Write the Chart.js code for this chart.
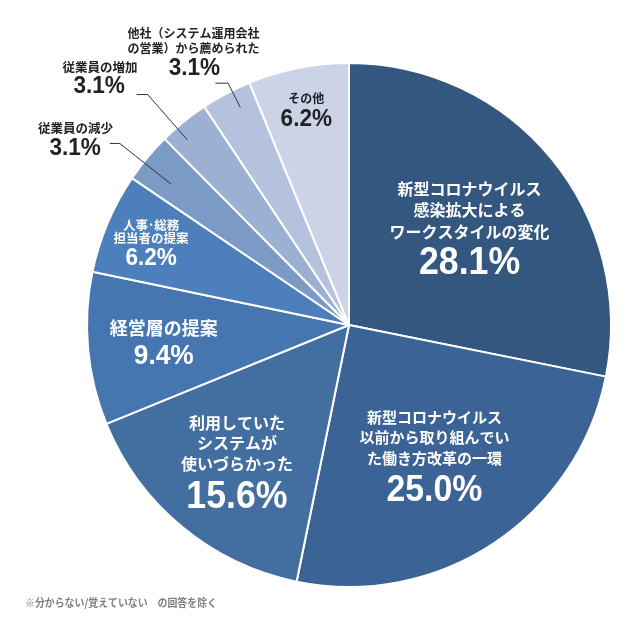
<!DOCTYPE html>
<html lang="ja">
<head>
<meta charset="utf-8">
<title>導入のきっかけ</title>
<script src="https://cdn.jsdelivr.net/npm/chart.js@4.4.1/dist/chart.umd.min.js"></script>
<style>
  html, body { margin: 0; padding: 0; background: #fff; }
  #wrap { position: relative; width: 643px; height: 618px; }
</style>
</head>
<body>
<div id="wrap"><canvas id="pie"></canvas></div>
<script>
// --- data ---
const categories = [
  "新型コロナウイルス感染拡大によるワークスタイルの変化",
  "新型コロナウイルス以前から取り組んでいた働き方改革の一環",
  "利用していたシステムが使いづらかった",
  "経営層の提案",
  "人事・総務担当者の提案",
  "従業員の減少",
  "従業員の増加",
  "他社（システム運用会社の営業）から薦められた",
  "その他"
];
const labelLines = [
  ["新型コロナウイルス", "感染拡大による", "ワークスタイルの変化"],
  ["新型コロナウイルス", "以前から取り組んでい", "た働き方改革の一環"],
  ["利用していた", "システムが", "使いづらかった"],
  ["経営層の提案"],
  ["人事･総務", "担当者の提案"],
  ["従業員の減少"],
  ["従業員の増加"],
  ["他社（システム運用会社", "の営業）から薦められた"],
  ["その他"]
];
const shares = [28.1, 25.0, 15.6, 9.4, 6.2, 3.1, 3.1, 3.1, 6.2];
const footnote = "※分からない/覚えていない　の回答を除く";

const sliceColors = ["#34577f", "#3b6395", "#426ea0", "#4676b0", "#4c7fbb",
                     "#7b9ac6", "#9bb0d3", "#b4c2de", "#cbd4e6"];

// label layout: inside labels sit at a fraction of the radius on the slice's mid angle,
// outside labels hang off a leader line
const labelLayout = [
  { r: 0.595, color: "#fff", size: 16, pct: 38, dy: [-37.5, -16.5, 5.5], pdy: 37.5 },
  { r: 0.59,  color: "#fff", size: 15, pct: 36, dy: [-37, -17, 4], pdy: 37.5 },
  { r: 0.67,  color: "#fff", size: 16, pct: 38, dy: [-37, -17, 4], pdy: 37 },
  { r: 0.71,  color: "#fff", size: 18, pct: 28, dy: [-14], pdy: 14 },
  { r: 0.82,  color: "#fff", size: 12.5, pct: 24, dy: [-16.5, -3.3], pdy: 16.7 },
  { out: true, da: -1.3, rIn: 0.866, rOut: 1.116, tail: 10, color: "#222", size: 12.5, pct: 24,
    tx: -34.2, dy: [-15.6], px: -34.7, pdy: 5 },
  { out: true, da: -2, rIn: 0.938, rOut: 1.168, tail: 11, color: "#222", size: 12.5, pct: 24,
    tx: -36.6, dy: [-27.7], px: -37.5, pdy: -7.7 },
  { out: true, da: 1.4, rIn: 0.928, rOut: 1.032, tail: 12.7, color: "#222", size: 12, pct: 24,
    tx: -22, dy: [-50, -35], px: -21, pdy: -15 },
  { r: 0.84,  color: "#222", size: 12, pct: 24, dy: [-10.4], pdy: 10.3 }
];

const JP_FONT = '"Noto Sans CJK JP", "Noto Sans", sans-serif';
const NUM_FONT = '"Liberation Sans", Arial, sans-serif';

// slightly condensed number text
function drawSqueezed(ctx, text, x, y, font, sx) {
  ctx.save();
  ctx.translate(x, y);
  ctx.scale(sx, 1);
  ctx.font = font;
  ctx.fillText(text, 0, 0);
  ctx.restore();
}

const sliceLabels = {
  id: "sliceLabels",
  afterDatasetsDraw(chart) {
    const ctx = chart.ctx;
    const arcs = chart.getDatasetMeta(0).data;
    ctx.save();
    ctx.textAlign = "center";
    ctx.textBaseline = "middle";
    arcs.forEach((arc, i) => {
      const L = labelLayout[i];
      const { x, y, startAngle, endAngle, outerRadius } = arc.getProps(["x", "y", "startAngle", "endAngle", "outerRadius"], true);
      let mid = (startAngle + endAngle) / 2;
      const pctText = shares[i].toFixed(1) + "%";
      const pctFont = "bold " + L.pct + "px " + NUM_FONT;
      ctx.fillStyle = L.color;
      if (!L.out) {
        const ax = x + Math.cos(mid) * outerRadius * L.r;
        const ay = y + Math.sin(mid) * outerRadius * L.r;
        ctx.font = "bold " + L.size + "px " + JP_FONT;
        labelLines[i].forEach((line, k) => ctx.fillText(line, ax, ay + L.dy[k]));
        drawSqueezed(ctx, pctText, ax, ay + L.pdy, pctFont, 0.94);
      } else {
        mid += L.da * Math.PI / 180;
        const x1 = x + Math.cos(mid) * outerRadius * L.rIn;
        const y1 = y + Math.sin(mid) * outerRadius * L.rIn;
        const x2 = x + Math.cos(mid) * outerRadius * L.rOut;
        const y2 = y + Math.sin(mid) * outerRadius * L.rOut;
        const x3 = x2 - L.tail;
        ctx.strokeStyle = "#333";
        ctx.lineWidth = 1;
        ctx.beginPath();
        ctx.moveTo(x1, y1);
        ctx.lineTo(x2, y2);
        ctx.lineTo(x3, y2);
        ctx.stroke();
        ctx.font = "bold " + L.size + "px " + JP_FONT;
        labelLines[i].forEach((line, k) => ctx.fillText(line, x3 + L.tx, y2 + L.dy[k]));
        drawSqueezed(ctx, pctText, x3 + L.px, y2 + L.pdy, pctFont, 0.94);
      }
    });
    // footnote
    ctx.textAlign = "left";
    ctx.fillStyle = "#7f7f7f";
    drawSqueezed(ctx, footnote, 25, 603, "bold 11px " + JP_FONT, 0.9);
    ctx.restore();
  }
};

new Chart(document.getElementById("pie"), {
  type: "pie",
  data: {
    labels: categories,
    datasets: [{
      data: shares,
      backgroundColor: sliceColors,
      borderColor: "#fff",
      borderWidth: 2
    }]
  },
  options: {
    responsive: true,
    maintainAspectRatio: false,
    animation: false,
    layout: { padding: { left: 86, right: 31, top: 62, bottom: 30 } },
    plugins: {
      legend: { display: false },
      tooltip: { enabled: false }
    }
  },
  plugins: [sliceLabels]
});
</script>
</body>
</html>
